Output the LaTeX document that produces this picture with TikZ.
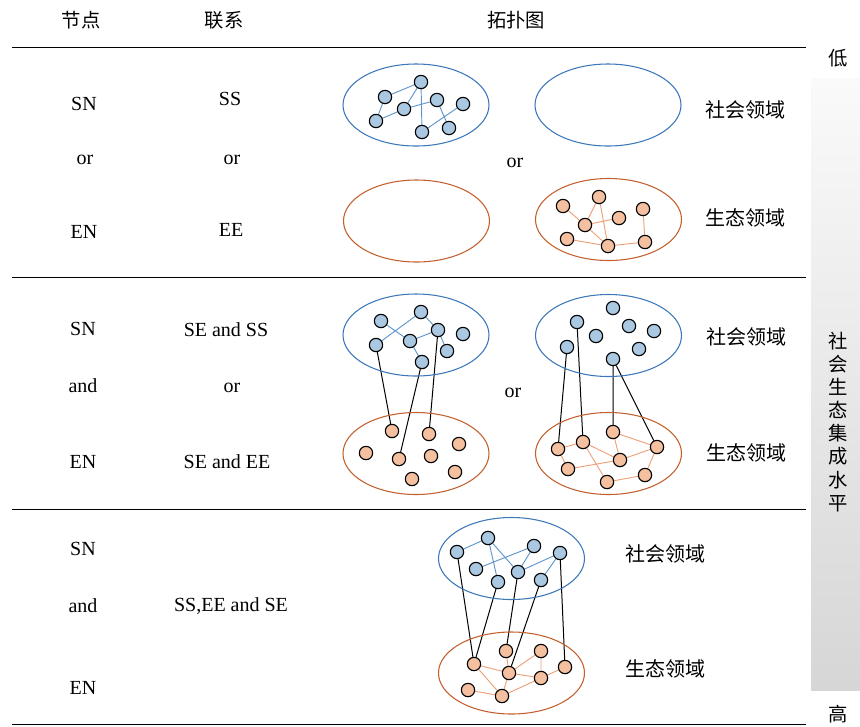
\documentclass[tikz,border=0pt]{standalone}
\usepackage{fontspec}
\setmainfont{Liberation Serif}
\newfontfamily\cjk{Noto Sans CJK SC}
\usetikzlibrary{shapes.geometric,backgrounds}
\definecolor{ellblue}{RGB}{60,120,185}
\definecolor{fillblue}{RGB}{170,200,225}
\definecolor{edgeblue}{RGB}{95,150,205}
\definecolor{ellorange}{RGB}{195,95,45}
\definecolor{fillorange}{RGB}{245,192,160}
\definecolor{edgeorange}{RGB}{238,160,120}
\definecolor{barbottom}{RGB}{214,214,214}
\definecolor{bartop}{RGB}{250,250,250}
\tikzset{
  txt/.style={font=\fontsize{15}{17}\selectfont, inner sep=0pt},
  ctxt/.style={font=\cjk\fontsize{15}{17}\selectfont, inner sep=0pt},
  htxt/.style={font=\cjk\fontsize{14.5}{17}\selectfont, inner sep=0pt},
  bnode/.style={circle, draw=black, line width=0.85pt, fill=fillblue, minimum size=10pt, inner sep=0pt},
  onode/.style={circle, draw=black, line width=0.85pt, fill=fillorange, minimum size=10pt, inner sep=0pt},
  bell/.style={ellipse, draw=ellblue, line width=0.8pt, minimum width=109.5pt, minimum height=61.5pt, inner sep=0pt},
  oell/.style={ellipse, draw=ellorange, line width=0.8pt, minimum width=109.5pt, minimum height=61.5pt, inner sep=0pt},
  bedge/.style={draw=edgeblue, line width=0.7pt},
  oedge/.style={draw=edgeorange, line width=0.7pt},
  link/.style={draw=black, line width=0.75pt},
  rule/.style={draw=black, line width=0.75pt}
}
\begin{document}
\begin{tikzpicture}[x=0.75pt,y=-0.75pt]
\useasboundingbox (0,0) rectangle (860,726);
% gradient bar
\shade[top color=bartop, bottom color=barbottom] (811,78) rectangle (860,690);
% rules
\coordinate (L0a) at (12,47); \coordinate (L0b) at (806,47);
\coordinate (L1a) at (12,277); \coordinate (L1b) at (806,277);
\coordinate (L2a) at (12,509); \coordinate (L2b) at (806,509);
\coordinate (L3a) at (12,724); \coordinate (L3b) at (806,724);
\draw[rule] (L0a) -- (L0b);
\draw[rule] (L1a) -- (L1b);
\draw[rule] (L2a) -- (L2b);
\draw[rule] (L3a) -- (L3b);
% headers
\node[htxt] (h1) at (81,20) {节点};
\node[htxt] (h2) at (224,20) {联系};
\node[htxt] (h3) at (516,20) {拓扑图};
\node[htxt] (low) at (838,58) {低};
\node[htxt] (high) at (838,714) {高};
\node[htxt, align=center, font=\cjk\fontsize{14.5}{17.3}\selectfont] (lvl) at (838,422) {社\\会\\生\\态\\集\\成\\水\\平};
% left column texts
\node[txt] (sn1) at (84,104) {SN};
\node[txt] (or1) at (85,160) {or};
\node[txt] (en1) at (84,232) {EN};
\node[txt] (ss1) at (230,99) {SS};
\node[txt] (or2) at (232,160) {or};
\node[txt] (ee1) at (231,230) {EE};
\node[txt] (sn2) at (83,329) {SN};
\node[txt] (and2) at (83,386) {and};
\node[txt] (en2) at (83,462) {EN};
\node[txt] (c2a) at (226,330) {SE and SS};
\node[txt] (c2b) at (232,388) {or};
\node[txt] (c2c) at (227,462) {SE and EE};
\node[txt] (sn3) at (83,549) {SN};
\node[txt] (and3) at (83,606) {and};
\node[txt] (en3) at (83,688) {EN};
\node[txt] (c3) at (231,606) {SS,EE and SE};
\node[txt] (or3) at (515,163) {or};
\node[txt] (or4) at (513,393) {or};
% domain labels
\node[ctxt] (s1lab) at (745,110) {社会领域};
\node[ctxt] (e1lab) at (745,218) {生态领域};
\node[ctxt] (s2lab) at (746,337) {社会领域};
\node[ctxt] (e2lab) at (746,453) {生态领域};
\node[ctxt] (s3lab) at (665,554) {社会领域};
\node[ctxt] (e3lab) at (665,669) {生态领域};
% ellipses
\node[bell] (E1) at (416,105) {};
\node[bell] (E2) at (608,105) {};
\node[oell] (E3) at (416.5,221) {};
\node[oell] (E4) at (608.5,219.5) {};
\node[bell] (E5) at (416,335) {};
\node[bell] (E6) at (608.5,335.5) {};
\node[oell] (E7) at (416,453.5) {};
\node[oell] (E8) at (608.5,453.5) {};
\node[bell] (E9) at (511.5,558.5) {};
\node[oell] (E10) at (511.5,673) {};
% row 1 blue
\node[bnode] (A) at (421,82) {};
\node[bnode] (B) at (385,97) {};
\node[bnode] (C) at (404,109) {};
\node[bnode] (D) at (437,100) {};
\node[bnode] (E) at (463,104) {};
\node[bnode] (F) at (376,121) {};
\node[bnode] (G) at (422,132) {};
\node[bnode] (H) at (449,128) {};
% row 1 orange
\node[onode] (a) at (563,206) {};
\node[onode] (b) at (599,197) {};
\node[onode] (c) at (585,225) {};
\node[onode] (d) at (619,218) {};
\node[onode] (e) at (643,209) {};
\node[onode] (f) at (567,239) {};
\node[onode] (g) at (608,246) {};
\node[onode] (h) at (645,242) {};
% row 2 left blue
\node[bnode] (p1) at (421,312) {};
\node[bnode] (p2) at (381,321) {};
\node[bnode] (p3) at (438,330) {};
\node[bnode] (p4) at (463,334) {};
\node[bnode] (p5) at (410,341) {};
\node[bnode] (p6) at (376,345) {};
\node[bnode] (p7) at (447,351) {};
\node[bnode] (p8) at (422,362) {};
% row 2 left orange
\node[onode] (q1) at (392,431) {};
\node[onode] (q2) at (429,434) {};
\node[onode] (q3) at (459,444) {};
\node[onode] (q4) at (366,453) {};
\node[onode] (q5) at (399,459) {};
\node[onode] (q6) at (431,456) {};
\node[onode] (q7) at (412,479) {};
\node[onode] (q8) at (455,472) {};
% row 2 right blue
\node[bnode] (r1) at (613,308) {};
\node[bnode] (r2) at (577,322) {};
\node[bnode] (r3) at (629,326) {};
\node[bnode] (r4) at (654,331) {};
\node[bnode] (r5) at (596,336) {};
\node[bnode] (r6) at (567,347) {};
\node[bnode] (r7) at (639,349) {};
\node[bnode] (r8) at (613,359) {};
% row 2 right orange
\node[onode] (s1) at (613,432) {};
\node[onode] (s2) at (583,442) {};
\node[onode] (s3) at (558,449) {};
\node[onode] (s4) at (657,447) {};
\node[onode] (s5) at (620,460) {};
\node[onode] (s6) at (568,469) {};
\node[onode] (s7) at (645,475) {};
\node[onode] (s8) at (607,482) {};
% row 3 blue
\node[bnode] (t1) at (488,538) {};
\node[bnode] (t2) at (534,546) {};
\node[bnode] (t3) at (457,552) {};
\node[bnode] (t4) at (560,553) {};
\node[bnode] (t5) at (476,569) {};
\node[bnode] (t6) at (518,572) {};
\node[bnode] (t7) at (498,582) {};
\node[bnode] (t8) at (541,580) {};
% row 3 orange
\node[onode] (u1) at (506,651) {};
\node[onode] (u2) at (541,651) {};
\node[onode] (u3) at (474,664) {};
\node[onode] (u4) at (565,667) {};
\node[onode] (u5) at (509,673) {};
\node[onode] (u6) at (541,678) {};
\node[onode] (u7) at (468,690) {};
\node[onode] (u8) at (502,696) {};
\begin{pgfonlayer}{background}
% row 1
\draw[bedge] (B)--(A) (B)--(F) (F)--(C) (C)--(A) (A)--(G) (C)--(D) (D)--(H) (G)--(E);
\draw[oedge] (a)--(c) (b)--(c) (b)--(g) (c)--(d) (c)--(g) (f)--(g) (g)--(h) (e)--(h);
% row 2 left
\draw[bedge] (p6)--(p1) (p2)--(p5) (p1)--(p3) (p5)--(p3) (p3)--(p7) (p5)--(p8);
\draw[link] (p6)--(q1) (p8)--(q5) (p3)--(q2);
% row 2 right
\draw[oedge] (s3)--(s2) (s3)--(s6) (s2)--(s5) (s2)--(s8) (s1)--(s5) (s1)--(s4) (s6)--(s5) (s5)--(s4) (s8)--(s7) (s7)--(s4);
\draw[link] (r6)--(s3) (r2)--(s2) (r8)--(s1) (r8)--(s4);
% row 3
\draw[bedge] (t3)--(t1) (t1)--(t6) (t1)--(t7) (t2)--(t5) (t2)--(t6) (t6)--(t4) (t4)--(t8);
\draw[oedge] (u3)--(u5) (u3)--(u8) (u7)--(u8) (u1)--(u5) (u5)--(u2) (u2)--(u6) (u5)--(u6) (u6)--(u4) (u8)--(u6) (u5)--(u8);
\draw[link] (t3)--(u3) (t7)--(u3) (t6)--(u1) (t8)--(u5) (t4)--(u4);
\end{pgfonlayer}
\end{tikzpicture}
\end{document}
